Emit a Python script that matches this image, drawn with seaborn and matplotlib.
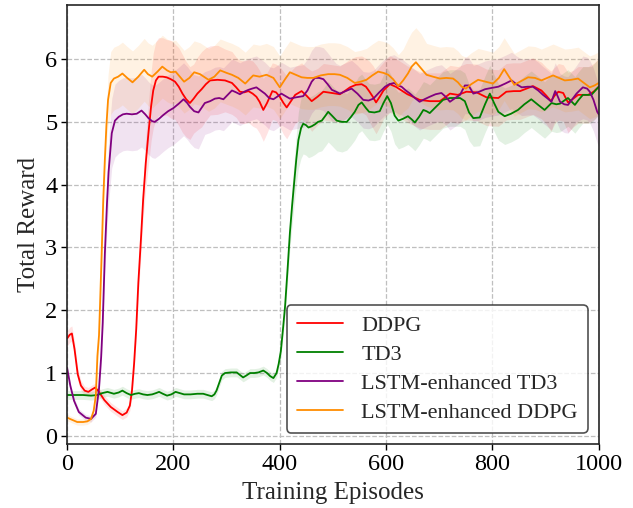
import numpy as np
import pandas as pd
import matplotlib
matplotlib.use('Agg')
import matplotlib.pyplot as plt
import seaborn as sns

# (episode, mean reward, half-width of shaded band)
ddpg = [(0, 1.55, .12), (5, 1.61, .12), (9, 1.63, .12), (14, 1.38, .12), (20, 0.98, .1), (26, 0.80, .08),
        (33, 0.72, .07), (40, 0.70, .07), (47, 0.74, .07), (53, 0.77, .07), (60, 0.70, .07), (70, 0.57, .07),
        (82, 0.46, .07), (95, 0.38, .07), (104, 0.33, .07), (112, 0.37, .07), (118, 0.48, .08), (122, 0.72, .1),
        (126, 1.15, .12), (130, 1.70, .15), (134, 2.44, .2), (139, 3.15, .25), (143, 3.76, .3), (148, 4.35, .4),
        (153, 4.82, .5), (158, 5.25, .55), (162, 5.50, .6), (167, 5.66, .62), (172, 5.72, .62), (180, 5.72, .62),
        (187, 5.71, .6), (195, 5.68, .62), (203, 5.64, .6), (210, 5.56, .62), (217, 5.45, .62), (224, 5.36, .6),
        (231, 5.30, .58), (238, 5.37, .55), (245, 5.45, .58), (253, 5.52, .6), (261, 5.60, .58), (269, 5.66, .55),
        (283, 5.67, .55), (297, 5.66, .5), (310, 5.62, .5), (318, 5.55, .48), (325, 5.48, .5), (333, 5.47, .5),
        (341, 5.49, .5), (349, 5.45, .52), (356, 5.40, .5), (362, 5.32, .5), (369, 5.19, .5), (376, 5.30, .48),
        (386, 5.49, .45), (393, 5.47, .45), (400, 5.40, .48), (407, 5.30, .5), (413, 5.23, .5), (421, 5.33, .48),
        (429, 5.43, .45), (441, 5.49, .45), (450, 5.42, .45), (460, 5.33, .48), (471, 5.40, .45), (482, 5.48, .45),
        (498, 5.46, .45), (513, 5.44, .45), (522, 5.49, .45), (532, 5.55, .45), (543, 5.59, .45), (554, 5.60, .45),
        (562, 5.56, .45), (568, 5.49, .48), (575, 5.40, .5), (581, 5.31, .5), (588, 5.40, .48), (595, 5.50, .45),
        (607, 5.60, .45), (618, 5.56, .45), (629, 5.50, .45), (640, 5.44, .45), (648, 5.41, .45), (663, 5.35, .45),
        (682, 5.33, .45), (701, 5.33, .45), (711, 5.39, .45), (720, 5.45, .45), (735, 5.43, .45), (751, 5.48, .45),
        (770, 5.47, .45), (789, 5.39, .45), (811, 5.38, .45), (826, 5.48, .45), (840, 5.49, .45), (852, 5.49, .45),
        (864, 5.53, .45), (876, 5.57, .45), (892, 5.50, .45), (901, 5.42, .45), (910, 5.33, .48), (917, 5.42, .45),
        (924, 5.48, .45), (933, 5.46, .45), (942, 5.31, .48), (952, 5.37, .45), (961, 5.43, .45), (980, 5.43, .45),
        (990, 5.48, .45), (1000, 5.56, .45)]

td3 = [(0, 0.65, .07), (15, 0.65, .07), (30, 0.65, .07), (45, 0.64, .07), (57, 0.65, .07), (66, 0.68, .07),
       (76, 0.70, .07), (88, 0.67, .07), (97, 0.69, .07), (104, 0.72, .07), (112, 0.68, .07), (120, 0.65, .07),
       (128, 0.67, .07), (135, 0.68, .07), (143, 0.66, .07), (151, 0.65, .07), (160, 0.66, .07), (167, 0.68, .07),
       (173, 0.70, .07), (180, 0.67, .07), (188, 0.64, .07), (196, 0.66, .07), (204, 0.70, .07), (212, 0.68, .07),
       (220, 0.66, .07), (232, 0.66, .07), (245, 0.67, .07), (256, 0.67, .07), (264, 0.65, .07), (272, 0.63, .07),
       (277, 0.66, .07), (281, 0.72, .07), (286, 0.84, .07), (291, 0.96, .07), (297, 1.00, .07), (308, 1.01, .07),
       (319, 1.01, .07), (325, 0.97, .07), (331, 0.93, .07), (337, 0.96, .07), (344, 1.00, .07), (352, 1.00, .07),
       (360, 1.01, .07), (369, 1.04, .07), (376, 1.00, .07), (382, 0.95, .07), (388, 0.92, .07), (394, 1.00, .07),
       (398, 1.15, .08), (402, 1.35, .1), (406, 1.70, .12), (410, 2.07, .15), (415, 2.70, .2), (419, 3.23, .25),
       (423, 3.65, .3), (427, 4.03, .35), (431, 4.40, .4), (435, 4.71, .45), (440, 4.90, .48), (444, 4.97, .48),
       (449, 4.95, .48), (454, 4.91, .48), (460, 4.93, .48), (466, 4.96, .48), (472, 5.00, .48), (479, 5.02, .48),
       (486, 5.10, .48), (491, 5.16, .48), (498, 5.10, .48), (507, 5.02, .48), (517, 5.00, .48), (526, 5.00, .45),
       (534, 5.08, .45), (541, 5.16, .45), (548, 5.27, .45), (554, 5.31, .45), (562, 5.22, .45), (568, 5.16, .45),
       (578, 5.15, .45), (588, 5.17, .45), (595, 5.30, .45), (602, 5.41, .45), (609, 5.30, .45), (616, 5.10, .45),
       (623, 5.02, .45), (632, 5.05, .45), (641, 5.09, .45), (648, 5.04, .45), (654, 4.99, .45), (662, 5.08, .45),
       (670, 5.19, .45), (676, 5.17, .45), (682, 5.14, .45), (695, 5.25, .45), (707, 5.35, .45), (720, 5.38, .45),
       (739, 5.38, .45), (748, 5.33, .45), (756, 5.15, .45), (764, 5.06, .45), (776, 5.07, .45), (786, 5.28, .45),
       (795, 5.45, .45), (803, 5.30, .45), (811, 5.16, .45), (823, 5.09, .45), (835, 5.13, .45), (848, 5.19, .45),
       (860, 5.28, .45), (873, 5.36, .45), (886, 5.27, .45), (898, 5.19, .45), (911, 5.30, .45), (920, 5.28, .45),
       (927, 5.29, .45), (935, 5.34, .45), (942, 5.38, .45), (955, 5.27, .45), (962, 5.35, .45), (970, 5.43, .45),
       (986, 5.43, .45), (1000, 5.56, .45)]

lstm_td3 = [(0, 1.08, .05), (6, 0.80, .05), (13, 0.56, .05), (22, 0.38, .05), (35, 0.29, .05), (45, 0.27, .05),
            (54, 0.35, .05), (60, 0.75, .08), (64, 1.25, .15), (67, 1.80, .2), (71, 2.90, .3), (75, 3.70, .4),
            (78, 4.20, .5), (84, 4.82, .55), (90, 5.02, .58), (97, 5.08, .58), (105, 5.12, .58), (112, 5.13, .58),
            (122, 5.12, .58), (131, 5.13, .58), (140, 5.18, .58), (147, 5.12, .58), (153, 5.06, .58), (160, 5.01, .58),
            (165, 5.00, .58), (173, 5.05, .58), (181, 5.11, .58), (190, 5.17, .58), (200, 5.22, .58), (210, 5.29, .58),
            (219, 5.36, .58), (226, 5.30, .58), (231, 5.24, .58), (239, 5.17, .58), (247, 5.15, .58), (259, 5.30, .5),
            (269, 5.33, .5), (278, 5.37, .5), (286, 5.38, .5), (294, 5.36, .5), (302, 5.43, .5), (310, 5.50, .5),
            (318, 5.47, .5), (325, 5.44, .5), (333, 5.48, .5), (341, 5.51, .5), (348, 5.53, .5), (356, 5.55, .5),
            (364, 5.50, .5), (372, 5.45, .5), (380, 5.38, .5), (388, 5.36, .5), (395, 5.40, .5), (403, 5.45, .5),
            (411, 5.41, .5), (419, 5.37, .5), (430, 5.39, .5), (444, 5.41, .5), (452, 5.50, .5), (460, 5.64, .5),
            (466, 5.70, .5), (474, 5.70, .5), (482, 5.68, .5), (490, 5.60, .5), (498, 5.51, .5), (506, 5.48, .45),
            (513, 5.45, .45), (524, 5.49, .45), (535, 5.53, .45), (546, 5.45, .45), (557, 5.35, .45), (567, 5.34, .45),
            (576, 5.37, .45), (587, 5.47, .45), (598, 5.56, .45), (606, 5.60, .45), (615, 5.62, .45), (622, 5.58, .45),
            (629, 5.56, .45), (637, 5.50, .45), (645, 5.45, .45), (654, 5.38, .45), (663, 5.32, .45), (672, 5.36, .45),
            (682, 5.40, .45), (693, 5.44, .45), (704, 5.46, .45), (712, 5.40, .45), (720, 5.32, .45), (730, 5.38, .45),
            (739, 5.43, .45), (748, 5.58, .45), (755, 5.58, .45), (764, 5.45, .45), (775, 5.48, .45), (786, 5.52, .45),
            (798, 5.54, .45), (811, 5.56, .45), (824, 5.61, .45), (836, 5.66, .45), (845, 5.60, .45), (855, 5.55, .45),
            (866, 5.56, .45), (876, 5.56, .45), (886, 5.50, .45), (895, 5.43, .45), (904, 5.37, .45), (911, 5.32, .45),
            (915, 5.42, .45), (918, 5.49, .45), (922, 5.42, .45), (927, 5.32, .45), (935, 5.28, .45), (942, 5.27, .45),
            (950, 5.36, .45), (958, 5.45, .45), (970, 5.55, .5), (978, 5.53, .5), (983, 5.48, .5), (990, 5.35, .5),
            (997, 5.16, .5), (1000, 5.12, .5)]

lstm_ddpg = [(0, 0.29, .05), (8, 0.26, .05), (19, 0.22, .05), (30, 0.22, .05), (38, 0.23, .05), (45, 0.27, .05),
             (50, 0.40, .05), (54, 0.64, .1), (57, 1.27, .15), (60, 1.60, .2), (62, 2.10, .3), (65, 2.90, .3),
             (68, 3.76, .3), (71, 4.40, .3), (74, 4.95, .3), (77, 5.35, .4), (82, 5.62, .5), (88, 5.69, .5),
             (96, 5.72, .5), (104, 5.77, .5), (113, 5.70, .5), (123, 5.63, .5), (134, 5.72, .5), (145, 5.83, .5),
             (152, 5.76, .5), (160, 5.72, .5), (170, 5.80, .5), (179, 5.88, .5), (188, 5.82, .5), (195, 5.79, .5),
             (204, 5.80, .5), (212, 5.72, .5), (220, 5.64, .5), (230, 5.70, .5), (239, 5.79, .5), (250, 5.76, .5),
             (266, 5.67, .5), (277, 5.72, .5), (288, 5.82, .5), (300, 5.78, .5), (310, 5.75, .5), (322, 5.70, .5),
             (335, 5.61, .5), (343, 5.68, .5), (350, 5.74, .5), (362, 5.72, .5), (375, 5.75, .5), (388, 5.70, .5),
             (400, 5.55, .5), (410, 5.68, .5), (419, 5.79, .5), (430, 5.75, .5), (441, 5.71, .5), (452, 5.70, .5),
             (463, 5.70, .5), (477, 5.74, .5), (491, 5.76, .5), (503, 5.76, .5), (513, 5.75, .5), (527, 5.70, .5),
             (541, 5.62, .5), (552, 5.64, .5), (563, 5.67, .5), (574, 5.74, .5), (585, 5.80, .5), (595, 5.78, .5),
             (604, 5.75, .5), (613, 5.68, .5), (623, 5.57, .5), (632, 5.66, .5), (641, 5.77, .55), (648, 5.88, .55),
             (656, 5.95, .55), (666, 5.85, .55), (676, 5.75, .5), (688, 5.72, .5), (701, 5.69, .5), (713, 5.70, .5),
             (726, 5.69, .5), (735, 5.63, .5), (742, 5.56, .5), (750, 5.53, .5), (760, 5.60, .5), (773, 5.67, .5),
             (787, 5.64, .5), (801, 5.61, .5), (812, 5.70, .5), (822, 5.84, .5), (831, 5.72, .5), (841, 5.59, .5),
             (854, 5.65, .5), (867, 5.71, .5), (880, 5.70, .5), (892, 5.66, .5), (903, 5.70, .5), (914, 5.74, .5),
             (925, 5.70, .5), (936, 5.66, .5), (948, 5.67, .5), (961, 5.69, .5), (972, 5.62, .5), (983, 5.55, .5),
             (992, 5.58, .5), (1000, 5.62, .5)]

labels = ['DDPG', 'TD3', 'LSTM-enhanced TD3', 'LSTM-enhanced DDPG']
colors = ['red', 'green', 'purple', 'darkorange']
x_ticks = [0, 200, 400, 600, 800, 1000]
y_ticks = [0, 1, 2, 3, 4, 5, 6]

sns.set_theme(style='ticks')
plt.rcParams['font.family'] = ['Liberation Serif', 'DejaVu Serif']
plt.rcParams['mathtext.fontset'] = 'stix'

fig = plt.figure(figsize=(6.33, 5.08), dpi=100)
ax = fig.add_axes([0.106, 0.126, 0.84, 0.864])

for data, name, col in zip([ddpg, td3, lstm_td3, lstm_ddpg], labels, colors):
    df = pd.DataFrame(data, columns=['episode', 'reward', 'spread'])
    ax.fill_between(df['episode'], df['reward'] - df['spread'], df['reward'] + df['spread'],
                    color=col, alpha=0.11, lw=0)
    sns.lineplot(data=df, x='episode', y='reward', ax=ax, color=col, lw=1.3, label=name)

ax.set_xlim(0, 1000)
ax.set_ylim(-0.13, 6.86)
ax.set_xticks(x_ticks)
ax.set_yticks(y_ticks)
ax.grid(True, ls='--', color='0.75', lw=0.9)
ax.tick_params(labelsize=17.5, length=4, width=1, colors='black', pad=3)
for s in ax.spines.values():
    s.set_color('0.15')
    s.set_linewidth(1.2)
ax.set_xlabel('Training Episodes', fontsize=18, labelpad=5)
ax.set_ylabel('Total Reward', fontsize=18, labelpad=4)
leg = ax.legend(loc='lower right', fontsize=16, frameon=True, fancybox=True, framealpha=0.8,
                edgecolor='0.15', handlelength=2.1, labelspacing=0.38, borderpad=0.45)
leg.get_frame().set_linewidth(1.2)

fig.savefig('out.png', dpi=100)
